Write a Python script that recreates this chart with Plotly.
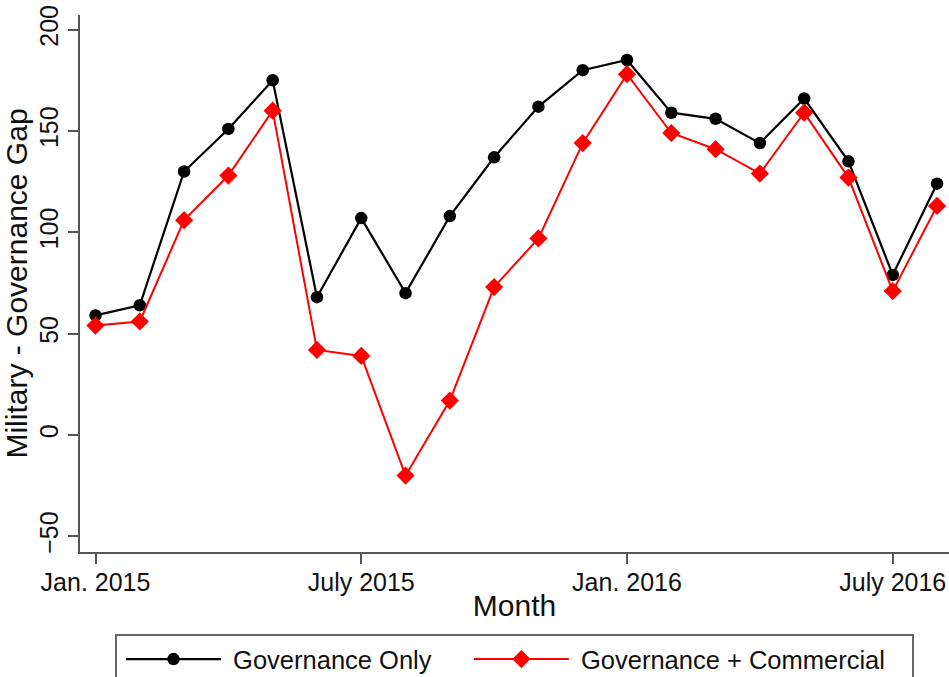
import plotly.graph_objects as go

months = ["Jan. 2015", "Feb. 2015", "Mar. 2015", "Apr. 2015", "May 2015", "June 2015",
          "July 2015", "Aug. 2015", "Sep. 2015", "Oct. 2015", "Nov. 2015", "Dec. 2015",
          "Jan. 2016", "Feb. 2016", "Mar. 2016", "Apr. 2016", "May 2016", "June 2016",
          "July 2016", "Aug. 2016"]
governance_only = [59, 64, 130, 151, 175, 68, 107, 70, 108, 137, 162, 180,
                   185, 159, 156, 144, 166, 135, 79, 124]
governance_commercial = [54, 56, 106, 128, 160, 42, 39, -20, 17, 73, 97, 144,
                         178, 149, 141, 129, 159, 127, 71, 113]
x_tick_labels = ["Jan. 2015", "July 2015", "Jan. 2016", "July 2016"]
y_ticks = [-50, 0, 50, 100, 150, 200]

FONT = "Liberation Sans, Arial, sans-serif"
NB = "\u00a0"

fig = go.Figure()
fig.add_trace(go.Scatter(
    x=months, y=governance_only, mode="lines+markers",
    name=NB + "Governance Only" + NB * 4,
    line=dict(color="#000000", width=2.2),
    marker=dict(symbol="circle", size=12.5, color="#000000"),
))
fig.add_trace(go.Scatter(
    x=months, y=governance_commercial, mode="lines+markers",
    name=NB + "Governance + Commercial" + NB * 3,
    line=dict(color="#ff0000", width=2),
    marker=dict(symbol="diamond", size=14, color="#ff0000"),
))

fig.update_layout(
    width=949, height=677,
    margin=dict(l=80, r=0, t=15, b=125, autoexpand=False),
    paper_bgcolor="white", plot_bgcolor="white",
    font=dict(family=FONT, size=25, color="#111111"),
    showlegend=True,
    legend=dict(
        orientation="h", x=0.5, xanchor="center", y=-0.1527, yanchor="top",
        bordercolor="#666666", borderwidth=2, bgcolor="white",
        itemwidth=95, font=dict(size=25.5), indentation=4,
        traceorder="normal",
    ),
    xaxis=dict(
        type="category", categoryorder="array", categoryarray=months,
        range=[-0.35, 19.27],
        tickmode="array", tickvals=x_tick_labels, ticktext=x_tick_labels,
        ticks="outside", ticklen=10, tickwidth=1.5, tickcolor="#555555",
        ticklabelstandoff=-3,
        showline=True, linecolor="#555555", linewidth=1.5,
        showgrid=False, zeroline=False,
        title=dict(text="Month", standoff=0),
    ),
    yaxis=dict(
        range=[-57.7, 207.2],
        tickmode="array", tickvals=y_ticks, tickangle=-90,
        ticks="outside", ticklen=10, tickwidth=1.5, tickcolor="#555555",
        ticklabeloverflow="allow", automargin=True,
        showline=True, linecolor="#555555", linewidth=1.5,
        showgrid=False, zeroline=False,
        title=dict(text="Military - Governance Gap", standoff=2),
    ),
)

fig.write_html(
    "out.html",
    config={"displayModeBar": False},
    post_script="document.body.style.margin='0';document.body.style.overflow='hidden';",
)
